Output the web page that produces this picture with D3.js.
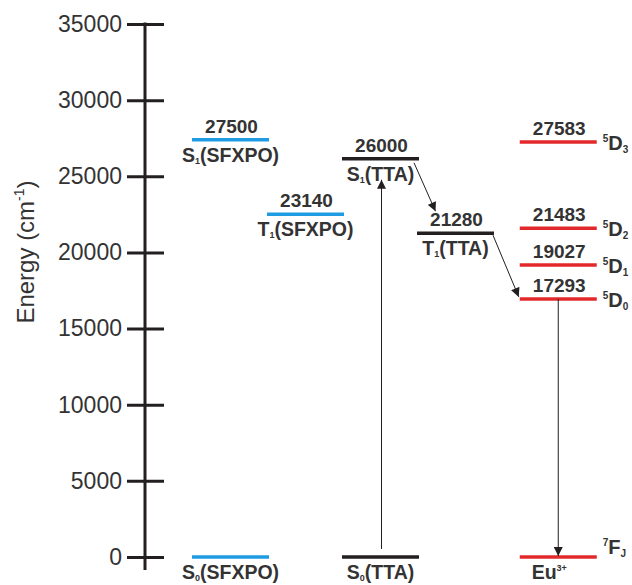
<!DOCTYPE html>
<html>
<head>
<meta charset="utf-8">
<script src="https://cdn.jsdelivr.net/npm/d3@7"></script>
<style>
  body { margin: 0; background: #fff; }
  svg { font-family: "Liberation Sans", Arial, sans-serif; }
</style>
</head>
<body>
<div id="chart"></div>
<script>
// tick values on the energy axis
const tickValues = [0, 5000, 10000, 15000, 20000, 25000, 30000, 35000];

// energy levels: printed value, drawn height, column slot, group
const levelValue = ["27500", "23140", "", "26000", "21280", "", "27583", "21483", "19027", "17293", ""];
const levelDrawn = [27400, 22500, 0, 26150, 21260, 0, 27250, 21580, 19180, 16950, 0];
const levelSlot = [0, 1, 0, 2, 3, 2, 4.37, 4.37, 4.37, 4.37, 4.37];
const levelGroup = ["SFXPO", "SFXPO", "SFXPO", "TTA", "TTA", "TTA", "Eu", "Eu", "Eu", "Eu", "Eu"];
// label under the line: [main, subscript, tail]
const levelBelow = [["S", "1", "(SFXPO)"], ["T", "1", "(SFXPO)"], ["S", "0", "(SFXPO)"],
  ["S", "1", "(TTA)"], ["T", "1", "(TTA)"], ["S", "0", "(TTA)"], null, null, null, null, ["Eu", "3+", ""]];
// term symbol right of Eu lines: [superscript, letter, subscript]
const levelRight = [null, null, null, null, null, null, ["5", "D", "3"], ["5", "D", "2"], ["5", "D", "1"], ["5", "D", "0"], ["7", "F", "J"]];

const groupColor = { SFXPO: "#1f9be3", TTA: "#231f20", Eu: "#e2282a" };

const margin = { top: 24, right: 10, bottom: 28, left: 145 };
const width = 632, height = 585;

const svg = d3.select("#chart").append("svg")
  .attr("width", width).attr("height", height);

const y = d3.scaleLinear().domain([0, 35000]).range([557, 24]);
const x = d3.scaleLinear().domain([0, 3]).range([230.5, 455.5]);
const halfW = 38.5;

// arrowhead
svg.append("defs").append("marker")
  .attr("id", "head")
  .attr("viewBox", "0 0 10 10")
  .attr("refX", 10).attr("refY", 5)
  .attr("markerWidth", 10).attr("markerHeight", 9)
  .attr("markerUnits", "userSpaceOnUse")
  .attr("orient", "auto")
  .append("path").attr("d", "M0,0 L10,5 L0,10 Z").attr("fill", "#231f20");

// axis
const axisG = svg.append("g").attr("transform", `translate(${margin.left},0)`);
axisG.call(d3.axisLeft(y).tickValues(tickValues).tickSize(18).tickPadding(5).tickFormat(d3.format("d")));
axisG.select(".domain").remove();
axisG.selectAll(".tick line").attr("x1", 19).attr("stroke", "#231f20").attr("stroke-width", 3);
axisG.selectAll(".tick text").style("font-size", "23px").attr("fill", "#333");
axisG.append("line").attr("x1", 0).attr("x2", 0).attr("y1", y(35000) - 1.5).attr("y2", 570)
  .attr("stroke", "#231f20").attr("stroke-width", 3);

// axis title
const title = svg.append("text")
  .attr("transform", "translate(34,252) rotate(-90)")
  .attr("text-anchor", "middle")
  .style("font-size", "24px").attr("fill", "#333");
title.append("tspan").text("Energy (cm");
title.append("tspan").text("-1").style("font-size", "14px").attr("dy", -10);
title.append("tspan").text(")").attr("dy", 10);

const levels = levelValue.map((v, i) => ({
  value: v, e: levelDrawn[i], slot: levelSlot[i], group: levelGroup[i],
  below: levelBelow[i], right: levelRight[i]
}));

// level lines
svg.selectAll(".level").data(levels).join("line")
  .attr("class", "level")
  .attr("x1", d => x(d.slot) - halfW).attr("x2", d => x(d.slot) + halfW)
  .attr("y1", d => y(d.e)).attr("y2", d => y(d.e))
  .attr("stroke", d => groupColor[d.group])
  .attr("stroke-width", 3.5);

// values above lines
svg.selectAll(".val").data(levels.filter(d => d.value)).join("text")
  .attr("class", "val")
  .attr("x", d => x(d.slot) + 1).attr("y", d => y(d.e) - 7)
  .attr("text-anchor", "middle")
  .style("font-size", "19px").style("font-weight", "bold").attr("fill", "#333")
  .text(d => d.value);

// labels below lines
const below = svg.selectAll(".below").data(levels.filter(d => d.below)).join("text")
  .attr("class", "below")
  .attr("x", d => x(d.slot) + (d.below[0] === "Eu" ? -9 : 0)).attr("y", d => y(d.e) + 22)
  .attr("text-anchor", "middle")
  .style("font-size", "19.5px").style("font-weight", "bold").attr("fill", "#333");
below.each(function (d) {
  const t = d3.select(this);
  const isEu = d.below[0] === "Eu";
  t.append("tspan").text(d.below[0]);
  t.append("tspan").text(d.below[1]).style("font-size", "9px").attr("dy", isEu ? -8 : 2);
  if (d.below[2]) t.append("tspan").text(d.below[2]).attr("dy", isEu ? 8 : -2);
});

// term symbols right of Eu lines
const right = svg.selectAll(".term").data(levels.filter(d => d.right)).join("text")
  .attr("class", "term")
  .attr("x", d => x(d.slot) + halfW + 6)
  .attr("y", d => y(d.e) + (d.right[1] === "F" ? -3 : 8))
  .style("font-size", "20px").style("font-weight", "bold").attr("fill", "#333");
right.each(function (d) {
  const t = d3.select(this);
  t.append("tspan").text(d.right[0]).style("font-size", "10px").attr("dy", -8);
  t.append("tspan").text(d.right[1]).attr("dy", 8);
  t.append("tspan").text(d.right[2]).style("font-size", "10px").attr("dy", 3);
});

// transitions: [from level, to level, start dx, start dy, end dx, end dy]
const arrows = [
  [5, 3, 1, -8, 1, 21],
  [3, 4, halfW - 5, 4, -20, -22],
  [4, 9, halfW - 1, 2, -halfW - 1, -2],
  [9, 10, 0, 0, 0, -1]
];
svg.selectAll(".arrow").data(arrows).join("line")
  .attr("class", "arrow")
  .attr("x1", d => x(levels[d[0]].slot) + d[2])
  .attr("y1", d => y(levels[d[0]].e) + d[3])
  .attr("x2", d => x(levels[d[1]].slot) + d[4])
  .attr("y2", d => y(levels[d[1]].e) + d[5])
  .attr("stroke", "#231f20").attr("stroke-width", 1)
  .attr("marker-end", "url(#head)");
</script>
</body>
</html>
